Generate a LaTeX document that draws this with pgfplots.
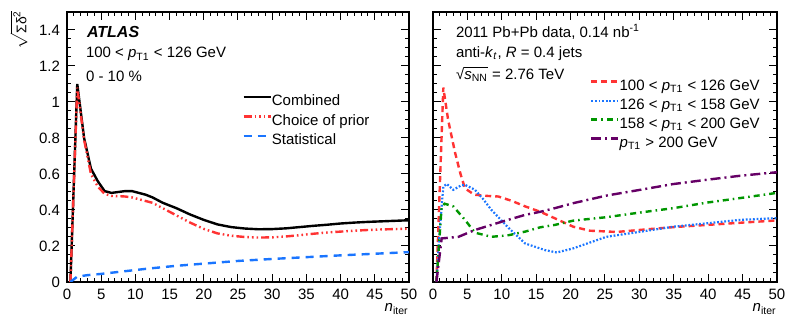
\documentclass[border=0pt]{standalone}
\usepackage{fontspec}
\setmainfont{Liberation Sans}
\usepackage{amsmath}
\usepackage{pgfplots}
\pgfplotsset{compat=1.18}

\definecolor{atlred}{RGB}{255,51,51}
\definecolor{atlblue}{RGB}{26,117,255}
\definecolor{atlgreen}{RGB}{0,150,0}
\definecolor{atlpurple}{RGB}{102,0,102}

\newcommand{\pT}{\textit{p}\textsubscript{T1}}

\pgfplotsset{
  atlas/.style={
    scale only axis, height=135pt,
    xmin=0, xmax=50, ymin=0, ymax=1.5,
    xtick={0,5,10,15,20,25,30,35,40,45,50},
    ytick={0,0.2,0.4,0.6,0.8,1,1.2,1.4},
    minor x tick num=4, minor y tick num=3,
    tick align=inside, xtick pos=both, ytick pos=both,
    major tick length=4pt, minor tick length=2pt,
    every tick/.style={black, line width=0.5pt},
    axis line style={line width=0.6pt},
    tick label style={font=\fontsize{7.5}{9}\selectfont},
    /pgf/number format/assume math mode=true,
    clip mode=individual,
    xlabel={\textit{n}\textsubscript{iter}},
    xlabel style={at={(rel axis cs:1,0)}, anchor=north east, yshift=-10.5pt, inner sep=0pt},
    legend cell align=left,
    legend image code/.code={\draw[##1] (0pt,2.3pt) -- (13.5pt,2.3pt);},
  },
}

\begin{document}
\begin{tikzpicture}[font=\fontsize{7.5}{9}\selectfont]
\path[use as bounding box] (-33.5pt,-22.5pt) rectangle (361pt,141pt);

% left panel
\begin{axis}[atlas, width=171pt, at={(0pt,0pt)}, anchor=south west,
  legend style={at={(rel axis cs:0.512,0.695)}, anchor=north west, draw=none, fill=none,
    inner sep=0pt, row sep=2.85pt,
    nodes={inner sep=0pt, text height=5.4pt, text depth=1.5pt, font=\fontsize{7.5}{9}\selectfont},
    /tikz/every even column/.style={column sep=3.5pt}},
]
\addplot[black, line width=1.2pt] coordinates {
  (0.5,0) (1.5,1.10) (2.5,0.80) (3.5,0.63) (4.5,0.56) (5.5,0.505) (6.5,0.495)
  (7.5,0.50) (8.5,0.505) (9.5,0.505) (10.5,0.495) (11.5,0.485) (12.5,0.47)
  (14,0.44) (16,0.41) (18,0.375) (20,0.345) (22,0.32) (24,0.305) (26,0.297)
  (28,0.293) (30,0.294) (32,0.298) (34,0.305) (36,0.312) (38,0.318) (40,0.325)
  (42,0.33) (44,0.334) (46,0.337) (48,0.34) (50,0.343)
};
\addlegendentry{Combined}
\addplot[atlred, line width=1.2pt,
  dash pattern=on 4pt off 1.5pt on 0.8pt off 1.5pt on 0.8pt off 1.5pt on 0.8pt off 1.5pt] coordinates {
  (0.5,0) (1.5,1.08) (2.5,0.79) (3.5,0.60) (4.5,0.53) (5.5,0.49) (6.5,0.478)
  (7.5,0.477) (8.5,0.475) (9.5,0.47) (10.5,0.46) (11.5,0.45) (12.5,0.44)
  (14,0.41) (16,0.37) (18,0.33) (20,0.295) (22,0.27) (24,0.257) (26,0.25)
  (28,0.247) (30,0.248) (32,0.253) (34,0.26) (36,0.268) (38,0.275) (40,0.28)
  (42,0.285) (44,0.289) (46,0.292) (48,0.294) (50,0.296)
};
\addlegendentry{Choice of prior}
\addplot[atlblue, line width=1.2pt, dash pattern=on 4pt off 3pt] coordinates {
  (0.5,0) (1.5,0.03) (3,0.038) (5,0.045) (8,0.058) (12,0.075) (16,0.09)
  (20,0.102) (25,0.117) (30,0.128) (35,0.138) (40,0.148) (45,0.157) (50,0.166)
};
\addlegendentry{Statistical}
\node[anchor=base west, font=\bfseries\itshape\fontsize{8}{9}\selectfont] at (rel axis cs:0.038,0.904) {ATLAS};
\node[anchor=base west] at (rel axis cs:0.035,0.831) {100 < \pT{} < 126 GeV};
\node[anchor=base west] at (rel axis cs:0.035,0.744) {0 - 10 \%};
\node[rotate=90, anchor=south east, inner sep=0pt, font=\fontsize{7}{8}\selectfont] at (rel axis cs:-0.114,1.007)
  {$\sqrt{\text{Σδ\textsuperscript{2}}}$};
\end{axis}

% right panel
\begin{axis}[atlas, width=172pt, at={(183pt,0pt)}, anchor=south west,
  yticklabels={},
  legend style={at={(rel axis cs:0.456,0.752)}, anchor=north west, draw=none, fill=none,
    inner sep=0pt, row sep=2.6pt,
    nodes={inner sep=0pt, text height=5.4pt, text depth=1.5pt, font=\fontsize{7.5}{9}\selectfont},
    /tikz/every even column/.style={column sep=4pt}},
]
\addplot[atlred, line width=1.2pt, dash pattern=on 3pt off 2pt] coordinates {
  (0.5,0) (1.5,1.08) (2.2,0.90) (3.2,0.72) (4,0.60) (4.65,0.52) (6,0.485)
  (8,0.478) (9.5,0.475) (11.5,0.45) (13.4,0.42) (15.6,0.39) (17.7,0.354)
  (20.4,0.307) (22.8,0.285) (26.7,0.278) (31.5,0.294) (35,0.305) (39.8,0.317)
  (45,0.33) (50,0.342)
};
\addlegendentry{100 < \pT{} < 126 GeV}
\addplot[atlblue, line width=1.1pt, dash pattern=on 0.9pt off 0.9pt] coordinates {
  (0.5,0) (1,0.3) (1.5,0.53) (2,0.545) (2.95,0.512) (4,0.535) (4.65,0.54)
  (6.1,0.512) (7.3,0.46) (8.5,0.40) (11,0.30) (13.4,0.214) (16.3,0.177)
  (18,0.164) (20.4,0.187) (25.2,0.251) (30.1,0.279) (34.9,0.307) (39.8,0.326)
  (44.6,0.345) (50,0.355)
};
\addlegendentry{126 < \pT{} < 158 GeV}
\addplot[atlgreen, line width=1.2pt, dash pattern=on 3pt off 2pt on 0.8pt off 2pt] coordinates {
  (0.5,0) (1.26,0.42) (1.7,0.435) (2.95,0.42) (4.65,0.345) (6.1,0.274)
  (8.5,0.251) (11,0.26) (13.4,0.28) (15.6,0.304) (17.7,0.317) (20.4,0.341)
  (25.2,0.36) (30.1,0.386) (34.9,0.41) (39.8,0.441) (44.6,0.466) (50,0.495)
};
\addlegendentry{158 < \pT{} < 200 GeV}
\addplot[atlpurple, line width=1.2pt, dash pattern=on 5pt off 2pt on 1pt off 2pt] coordinates {
  (0.5,0) (1.26,0.242) (3.7,0.251) (6.1,0.289) (10,0.335) (13.4,0.373)
  (15.6,0.39) (17.7,0.41) (20.4,0.438) (25.2,0.48) (30.1,0.512) (34.9,0.544)
  (39.8,0.568) (44.6,0.59) (50,0.61)
};
\addlegendentry{\pT{} > 200 GeV}
\node[anchor=base west] at (rel axis cs:0.0465,0.904) {2011 Pb+Pb data, 0.14 nb\textsuperscript{-1}};
\node[anchor=base west] at (rel axis cs:0.0465,0.830) {anti-\textit{k}\textsubscript{\textit{t}}, \textit{R} = 0.4 jets};
\node[anchor=base west] at (rel axis cs:0.0465,0.750) {√$\overline{\vphantom{A}\text{\textit{s}\textsubscript{NN}}}$ = 2.76 TeV};
\end{axis}
\end{tikzpicture}
\end{document}
